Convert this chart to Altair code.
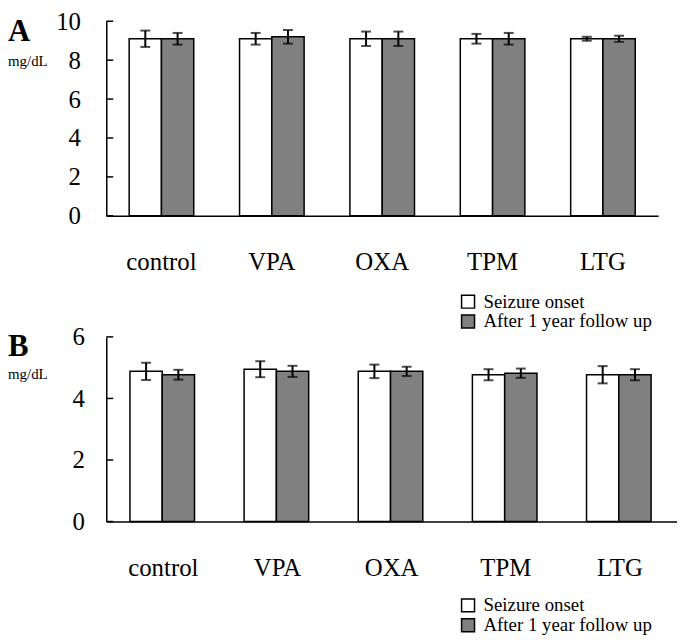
import altair as alt
import pandas as pd

categories = ["control", "VPA", "OXA", "TPM", "LTG"]
groups = ["Seizure onset", "After 1 year follow up"]

a_onset = [9.1, 9.1, 9.1, 9.1, 9.1]
a_onset_sd = [0.42, 0.30, 0.37, 0.25, 0.10]
a_follow = [9.1, 9.2, 9.1, 9.1, 9.1]
a_follow_sd = [0.30, 0.35, 0.37, 0.30, 0.16]

b_onset = [4.88, 4.95, 4.88, 4.77, 4.77]
b_onset_sd = [0.28, 0.26, 0.22, 0.18, 0.28]
b_follow = [4.77, 4.88, 4.88, 4.82, 4.77]
b_follow_sd = [0.16, 0.18, 0.15, 0.15, 0.18]

a_ticks = [0, 2, 4, 6, 8, 10]
b_ticks = [0, 2, 4, 6]

FONT = "Liberation Serif"


def panel(onset, onset_sd, follow, follow_sd, ticks, ymax, width, height,
          letter, letter_y, unit_y, legend_x, legend_y, ylab_pad):
    rows = []
    for g, vals, sds in [(groups[0], onset, onset_sd), (groups[1], follow, follow_sd)]:
        for c, v, s in zip(categories, vals, sds):
            rows.append({"cat": c, "group": g, "value": v, "lo": v - s, "hi": v + s})
    df = pd.DataFrame(rows)
    caps = pd.concat([df.assign(cap=df["lo"]), df.assign(cap=df["hi"])])
    tick_df = pd.DataFrame({"t": ticks})

    xscale = alt.Scale(paddingInner=0.415, paddingOuter=0.2075)
    xaxis = alt.Axis(title=None, labelAngle=0, ticks=False, domainColor="black",
                     domainWidth=1.5, labelFont=FONT, labelFontSize=25,
                     labelColor="black", labelPadding=34)
    yaxis = alt.Axis(title=None, values=ticks, grid=False, ticks=False,
                     domainColor="black", domainWidth=1.5, labelFont=FONT,
                     labelFontSize=25, labelColor="black", labelPadding=ylab_pad)
    xoff = alt.XOffset("group:N", sort=groups, scale=alt.Scale(paddingInner=0, paddingOuter=0))
    yscale = alt.Scale(domain=[0, ymax], nice=False, zero=True)

    def X():
        return alt.X("cat:N", sort=categories, scale=xscale, axis=xaxis)

    def Y(field):
        return alt.Y(field, scale=yscale, axis=yaxis)

    bars = alt.Chart(df).mark_bar(stroke="black", strokeWidth=1.5).encode(
        x=X(), xOffset=xoff, y=Y("value:Q"),
        fill=alt.Fill("group:N", sort=groups,
                      scale=alt.Scale(domain=groups, range=["white", "#808080"]),
                      legend=alt.Legend(title=None, orient="none", legendX=legend_x,
                                        legendY=legend_y, symbolType="square",
                                        symbolSize=170, symbolStrokeColor="black",
                                        symbolStrokeWidth=1.5, labelFont=FONT,
                                        labelFontSize=19, labelColor="black",
                                        labelLimit=400, rowPadding=-4, padding=0,
                                        labelOffset=6)),
    )
    err = alt.Chart(df).mark_rule(color="black", strokeWidth=2).encode(
        x=X(), xOffset=xoff, y=Y("lo:Q"), y2="hi:Q",
    )
    cap = alt.Chart(caps).mark_tick(color="black", thickness=2, size=10).encode(
        x=X(), xOffset=xoff, y=Y("cap:Q"),
    )
    inticks = alt.Chart(tick_df).mark_rule(color="black", strokeWidth=1.5).encode(
        y=Y("t:Q"), x=alt.value(0), x2=alt.value(7),
    )
    let = alt.Chart(pd.DataFrame({"t": [letter]})).mark_text(
        font=FONT, fontSize=31, fontWeight="bold", align="left", baseline="alphabetic",
        color="black").encode(text="t:N", x=alt.value(-99), y=alt.value(letter_y))
    unit = alt.Chart(pd.DataFrame({"t": ["mg/dL"]})).mark_text(
        font=FONT, fontSize=15, align="left", baseline="alphabetic",
        color="black").encode(text="t:N", x=alt.value(-99), y=alt.value(unit_y))
    return alt.layer(bars, err, cap, inticks, let, unit).properties(width=width, height=height)


pa = panel(a_onset, a_onset_sd, a_follow, a_follow_sd, a_ticks, 10, 556, 196,
           "A", 20, 45, 355, 273, 26)
pb = panel(b_onset, b_onset_sd, b_follow, b_follow_sd, b_ticks, 6, 575, 186,
           "B", 19, 42, 355, 261, 22)

chart = alt.vconcat(pa, pb, spacing=122, bounds="flush").resolve_scale(
    fill="independent").resolve_legend(fill="independent").properties(
    padding={"left": 0, "top": -1, "right": 0, "bottom": 0}
).configure_view(stroke=None)

chart.save("out.html", embed_options={"renderer": "svg", "actions": False})
